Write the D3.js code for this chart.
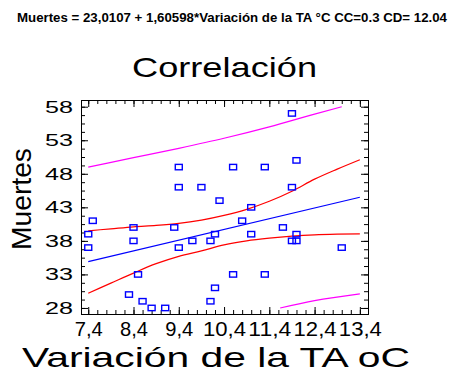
<!DOCTYPE html>
<html>
<head>
<meta charset="utf-8">
<script src="https://cdn.jsdelivr.net/npm/d3@7"></script>
<style>
body { margin: 0; background: #fff; }
.font { font-family: "Liberation Sans", Arial, sans-serif; }
</style>
</head>
<body>
<svg id="chart" width="460" height="376"></svg>
<script>
const SVG_WIDTH = 460;
const SVG_HEIGHT = 376;
const TITLE_TXT = "Muertes = 23,0107 + 1,60598*Variación de la TA °C CC=0.3 CD= 12.04";
const PLOT_TITLE_TXT = "Correlación";
const X_AXIS_LABEL = "Variación de la TA oC";
const Y_AXIS_LABEL = "Muertes";

// observaciones
var tempVar = [7.5, 7.4, 7.4, 8.4, 8.4, 8.3, 8.5, 8.6, 8.8, 9.1, 9.3, 9.4, 9.4, 9.4,
    9.7, 9.9, 10.3, 10.1, 10.2, 10.2, 10.1, 10.6, 10.6, 10.8, 11.0, 11.0, 11.3, 11.3,
    11.7, 11.9, 12.0, 11.9, 11.9, 12.0, 12.0, 13.0];
var muertes = [41, 39, 37, 40, 38, 30, 33, 29, 28, 28, 40, 49, 46, 37,
    38, 46, 44, 38, 39, 31, 29, 49, 33, 41, 43, 39, 49, 33,
    40, 57, 50, 46, 38, 39, 38, 37];

// recta ajustada y limites
var fitX = [7.4, 13.4];
var fitY = [34.9, 44.5];
var bandX = [7.4, 7.9, 8.4, 8.9, 9.4, 9.9, 10.4, 10.9, 11.4, 11.9, 12.4, 12.9, 13.4];
var confUpper = [39.5, 39.8, 40.1, 40.3, 40.6, 41.1, 41.8, 42.7, 43.9, 45.4, 47.2, 48.7, 50.1];
var confLower = [30.2, 31.7, 33.2, 34.6, 35.7, 36.5, 37.4, 38.0, 38.4, 38.7, 38.9, 39.0, 39.05];
var predUpperX = [7.4, 8.4, 9.4, 10.4, 11.4, 12.4, 13.0];
var predUpper = [49.0, 50.4, 51.8, 53.3, 55.0, 56.9, 58.0];
var predLowerX = [11.64, 12.4, 13.4];
var predLower = [28.0, 29.1, 30.1];

var xTicks = [7.4, 8.4, 9.4, 10.4, 11.4, 12.4, 13.4];
var yTicks = [28, 33, 38, 43, 48, 53, 58];

const X_MIN = 7.24, X_MAX = 13.58;
const Y_MIN = 27.1, Y_MAX = 59.0;
const PLOT_LEFT = 81, PLOT_RIGHT = 368, PLOT_TOP = 100, PLOT_BOTTOM = 314;

var svg = d3.select("#chart")
    .style("background-color", "#fff");

svg.append("text")
    .attr("x", 232)
    .attr("y", 22)
    .attr("text-anchor", "middle")
    .attr("textLength", 430)
    .attr("lengthAdjust", "spacingAndGlyphs")
    .style("font-size", "13.5px")
    .style("font-weight", "bold")
    .classed("font", true)
    .text(TITLE_TXT);

svg.append("text")
    .attr("x", 224.5)
    .attr("y", 77)
    .attr("text-anchor", "middle")
    .attr("textLength", 185)
    .attr("lengthAdjust", "spacingAndGlyphs")
    .style("font-size", "28px")
    .classed("font", true)
    .text(PLOT_TITLE_TXT);

svg.append("text")
    .attr("x", 216)
    .attr("y", 367)
    .attr("text-anchor", "middle")
    .attr("textLength", 388)
    .attr("lengthAdjust", "spacingAndGlyphs")
    .style("font-size", "28px")
    .classed("font", true)
    .text(X_AXIS_LABEL);

svg.append("text")
    .attr("transform", "translate(31, 199) rotate(-90)")
    .attr("text-anchor", "middle")
    .attr("textLength", 102)
    .attr("lengthAdjust", "spacingAndGlyphs")
    .style("font-size", "28px")
    .classed("font", true)
    .text(Y_AXIS_LABEL);

var xScale = d3.scaleLinear()
    .domain([X_MIN, X_MAX])
    .range([PLOT_LEFT, PLOT_RIGHT]);
var yScale = d3.scaleLinear()
    .domain([Y_MIN, Y_MAX])
    .range([PLOT_BOTTOM, PLOT_TOP]);

var xMinor = d3.range(0, 31).map(function(i) { return 7.4 + i * 0.2; });
var yMinor = d3.range(0, 25).map(function(i) { return 28 + i * 1.25; });

function styleAxis(g) {
    g.select(".domain").remove();
    g.selectAll("line").attr("stroke", "#000");
}

// ticks menores
svg.append("g").attr("transform", "translate(0," + PLOT_BOTTOM + ")")
    .call(d3.axisBottom(xScale).tickValues(xMinor).tickSize(-4).tickFormat(""))
    .call(styleAxis);
svg.append("g").attr("transform", "translate(0," + PLOT_TOP + ")")
    .call(d3.axisTop(xScale).tickValues(xMinor).tickSize(-4).tickFormat(""))
    .call(styleAxis);
svg.append("g").attr("transform", "translate(" + PLOT_LEFT + ",0)")
    .call(d3.axisLeft(yScale).tickValues(yMinor).tickSize(-4).tickFormat(""))
    .call(styleAxis);
svg.append("g").attr("transform", "translate(" + PLOT_RIGHT + ",0)")
    .call(d3.axisRight(yScale).tickValues(yMinor).tickSize(-4).tickFormat(""))
    .call(styleAxis);

// ticks mayores
var xAxisGroup = svg.append("g")
    .attr("transform", "translate(0," + PLOT_BOTTOM + ")")
    .classed("font", true)
    .call(d3.axisBottom(xScale).tickValues(xTicks).tickSize(-7).tickPadding(8)
        .tickFormat(function(d) { return d.toFixed(1).replace(".", ","); }))
    .call(styleAxis);
xAxisGroup.selectAll("text")
    .attr("fill", "#000")
    .attr("textLength", function(d) { return d >= 10 ? 43 : 28; })
    .attr("lengthAdjust", "spacingAndGlyphs")
    .style("font-size", "20px");

svg.append("g").attr("transform", "translate(0," + PLOT_TOP + ")")
    .call(d3.axisTop(xScale).tickValues(xTicks).tickSize(-7).tickFormat(""))
    .call(styleAxis);

var yAxisGroup = svg.append("g")
    .attr("transform", "translate(" + PLOT_LEFT + ",0)")
    .classed("font", true)
    .call(d3.axisLeft(yScale).tickValues(yTicks).tickSize(-7).tickPadding(8))
    .call(styleAxis);
yAxisGroup.selectAll("text")
    .attr("fill", "#000")
    .attr("textLength", 28)
    .attr("lengthAdjust", "spacingAndGlyphs")
    .style("font-size", "17px");

svg.append("g").attr("transform", "translate(" + PLOT_RIGHT + ",0)")
    .call(d3.axisRight(yScale).tickValues(yTicks).tickSize(-7).tickFormat(""))
    .call(styleAxis);

svg.append("rect")
    .attr("x", PLOT_LEFT + 0.5)
    .attr("y", PLOT_TOP + 0.5)
    .attr("width", PLOT_RIGHT - PLOT_LEFT)
    .attr("height", PLOT_BOTTOM - PLOT_TOP)
    .attr("fill", "none")
    .attr("stroke", "#000");

svg.append("clipPath")
    .attr("id", "plotAreaClipPath")
    .append("rect")
    .attr("x", PLOT_LEFT + 1)
    .attr("y", PLOT_TOP + 1)
    .attr("width", PLOT_RIGHT - PLOT_LEFT - 1)
    .attr("height", PLOT_BOTTOM - PLOT_TOP - 1);

var lineGroup = svg.append("g")
    .attr("clip-path", "url(#plotAreaClipPath)");

function drawCurve(xs, ys, color) {
    var pts = xs.map(function(x, i) { return [x, ys[i]]; });
    var line = d3.line()
        .x(function(d) { return xScale(d[0]); })
        .y(function(d) { return yScale(d[1]); })
        .curve(d3.curveMonotoneX);
    lineGroup.append("path")
        .datum(pts)
        .attr("d", line)
        .attr("fill", "none")
        .attr("stroke", color)
        .attr("stroke-width", 1.2);
}

drawCurve(predUpperX, predUpper, "#ff00ff");
drawCurve(predLowerX, predLower, "#ff00ff");
drawCurve(bandX, confUpper, "#ff0000");
drawCurve(bandX, confLower, "#ff0000");
drawCurve(fitX, fitY, "#0000ff");

lineGroup.selectAll(".point")
    .data(tempVar)
    .enter()
    .append("rect")
    .classed("point", true)
    .attr("x", function(d) { return xScale(d) - 3.5; })
    .attr("y", function(d, i) { return yScale(muertes[i]) - 2.7; })
    .attr("width", 7)
    .attr("height", 5.4)
    .attr("fill", "none")
    .attr("stroke", "#0000ff")
    .attr("stroke-width", 1.4);
</script>
</body>
</html>
